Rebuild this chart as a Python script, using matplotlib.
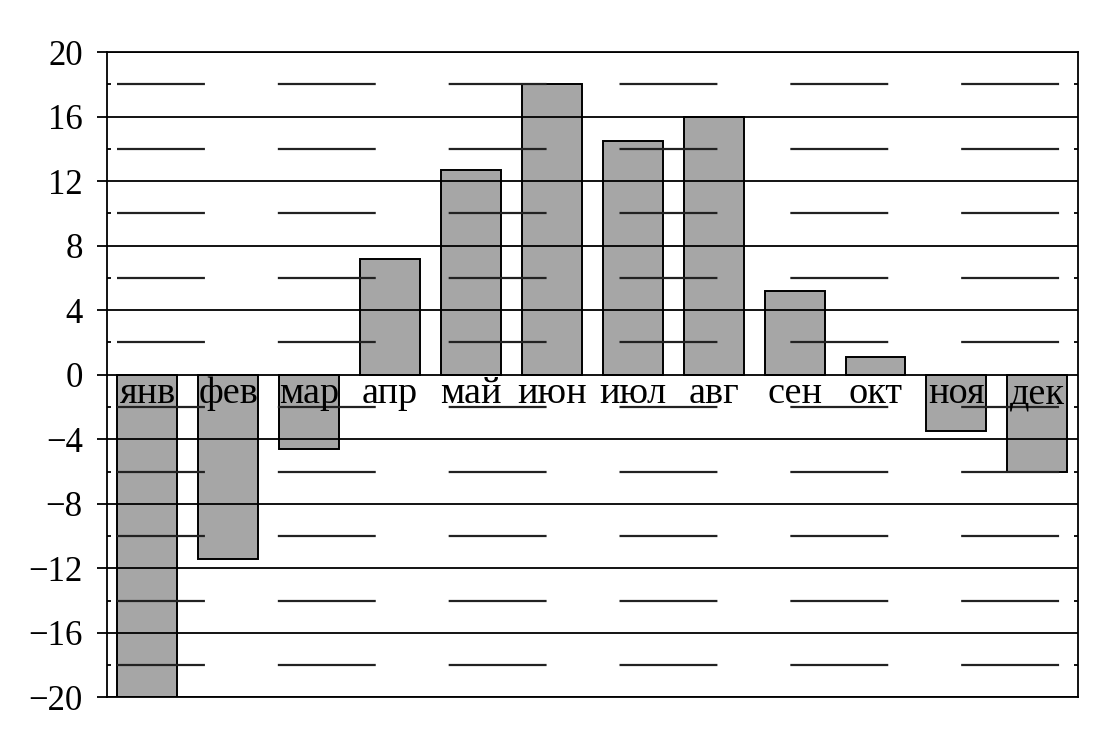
import numpy as np
import matplotlib
matplotlib.use('Agg')
import matplotlib.pyplot as plt
from matplotlib.ticker import FixedLocator

# 数据
months = ['янв', 'фев', 'мар', 'апр', 'май', 'июн',
          'июл', 'авг', 'сен', 'окт', 'ноя', 'дек']
temps = [-20, -11.4, -4.6, 7.2, 12.7, 18, 14.5, 16, 5.2, 1.1, -3.5, -6.0]
major_ticks = list(range(-20, 21, 4))
minor_ticks = [-18, -14, -10, -6, -2, 2, 6, 10, 14, 18]

plt.rcParams['font.family'] = ['Liberation Serif', 'DejaVu Serif']
plt.rcParams['lines.scale_dashes'] = False

fig = plt.figure(figsize=(11.04, 7.38), dpi=100)
ax = fig.add_axes([0.0969, 0.0549, 0.9762 - 0.0969, 0.9295 - 0.0549])

x = np.arange(len(months))
ax.bar(x, temps, width=0.74, color='#a6a6a6', edgecolor='black', linewidth=1.4, zorder=1)

# 网格线：主刻度实线，次刻度长虚线
for v in major_ticks:
    ax.axhline(v, color='black', lw=1.3, zorder=2)
for v in minor_ticks:
    ax.axhline(v, xmin=0.0106, xmax=1, color='#222222', lw=1.6,
               linestyle=(7.2, (70.5, 52.5)), zorder=2)

# 月份标签
for xi, name in zip(x, months):
    ax.text(xi, -1.77, name, ha='center', va='baseline', fontsize=27.5, zorder=4)

ax.set_xlim(-0.5, 11.5)
ax.set_ylim(-20, 20)
ax.set_xticks([])
ax.yaxis.set_major_locator(FixedLocator(major_ticks))
ax.yaxis.set_minor_locator(FixedLocator(minor_ticks))
ax.set_yticklabels([f'{v}'.replace('-', '\u2212') for v in major_ticks])
ax.tick_params(axis='y', which='major', direction='out', length=7.5, width=1.3,
               labelsize=25, pad=10)
ax.tick_params(axis='y', which='minor', direction='in', length=3, width=1.3,
               left=True, right=True)
for s in ax.spines.values():
    s.set_linewidth(1.3)
    s.set_zorder(3)

fig.savefig('out.png', dpi=100)
